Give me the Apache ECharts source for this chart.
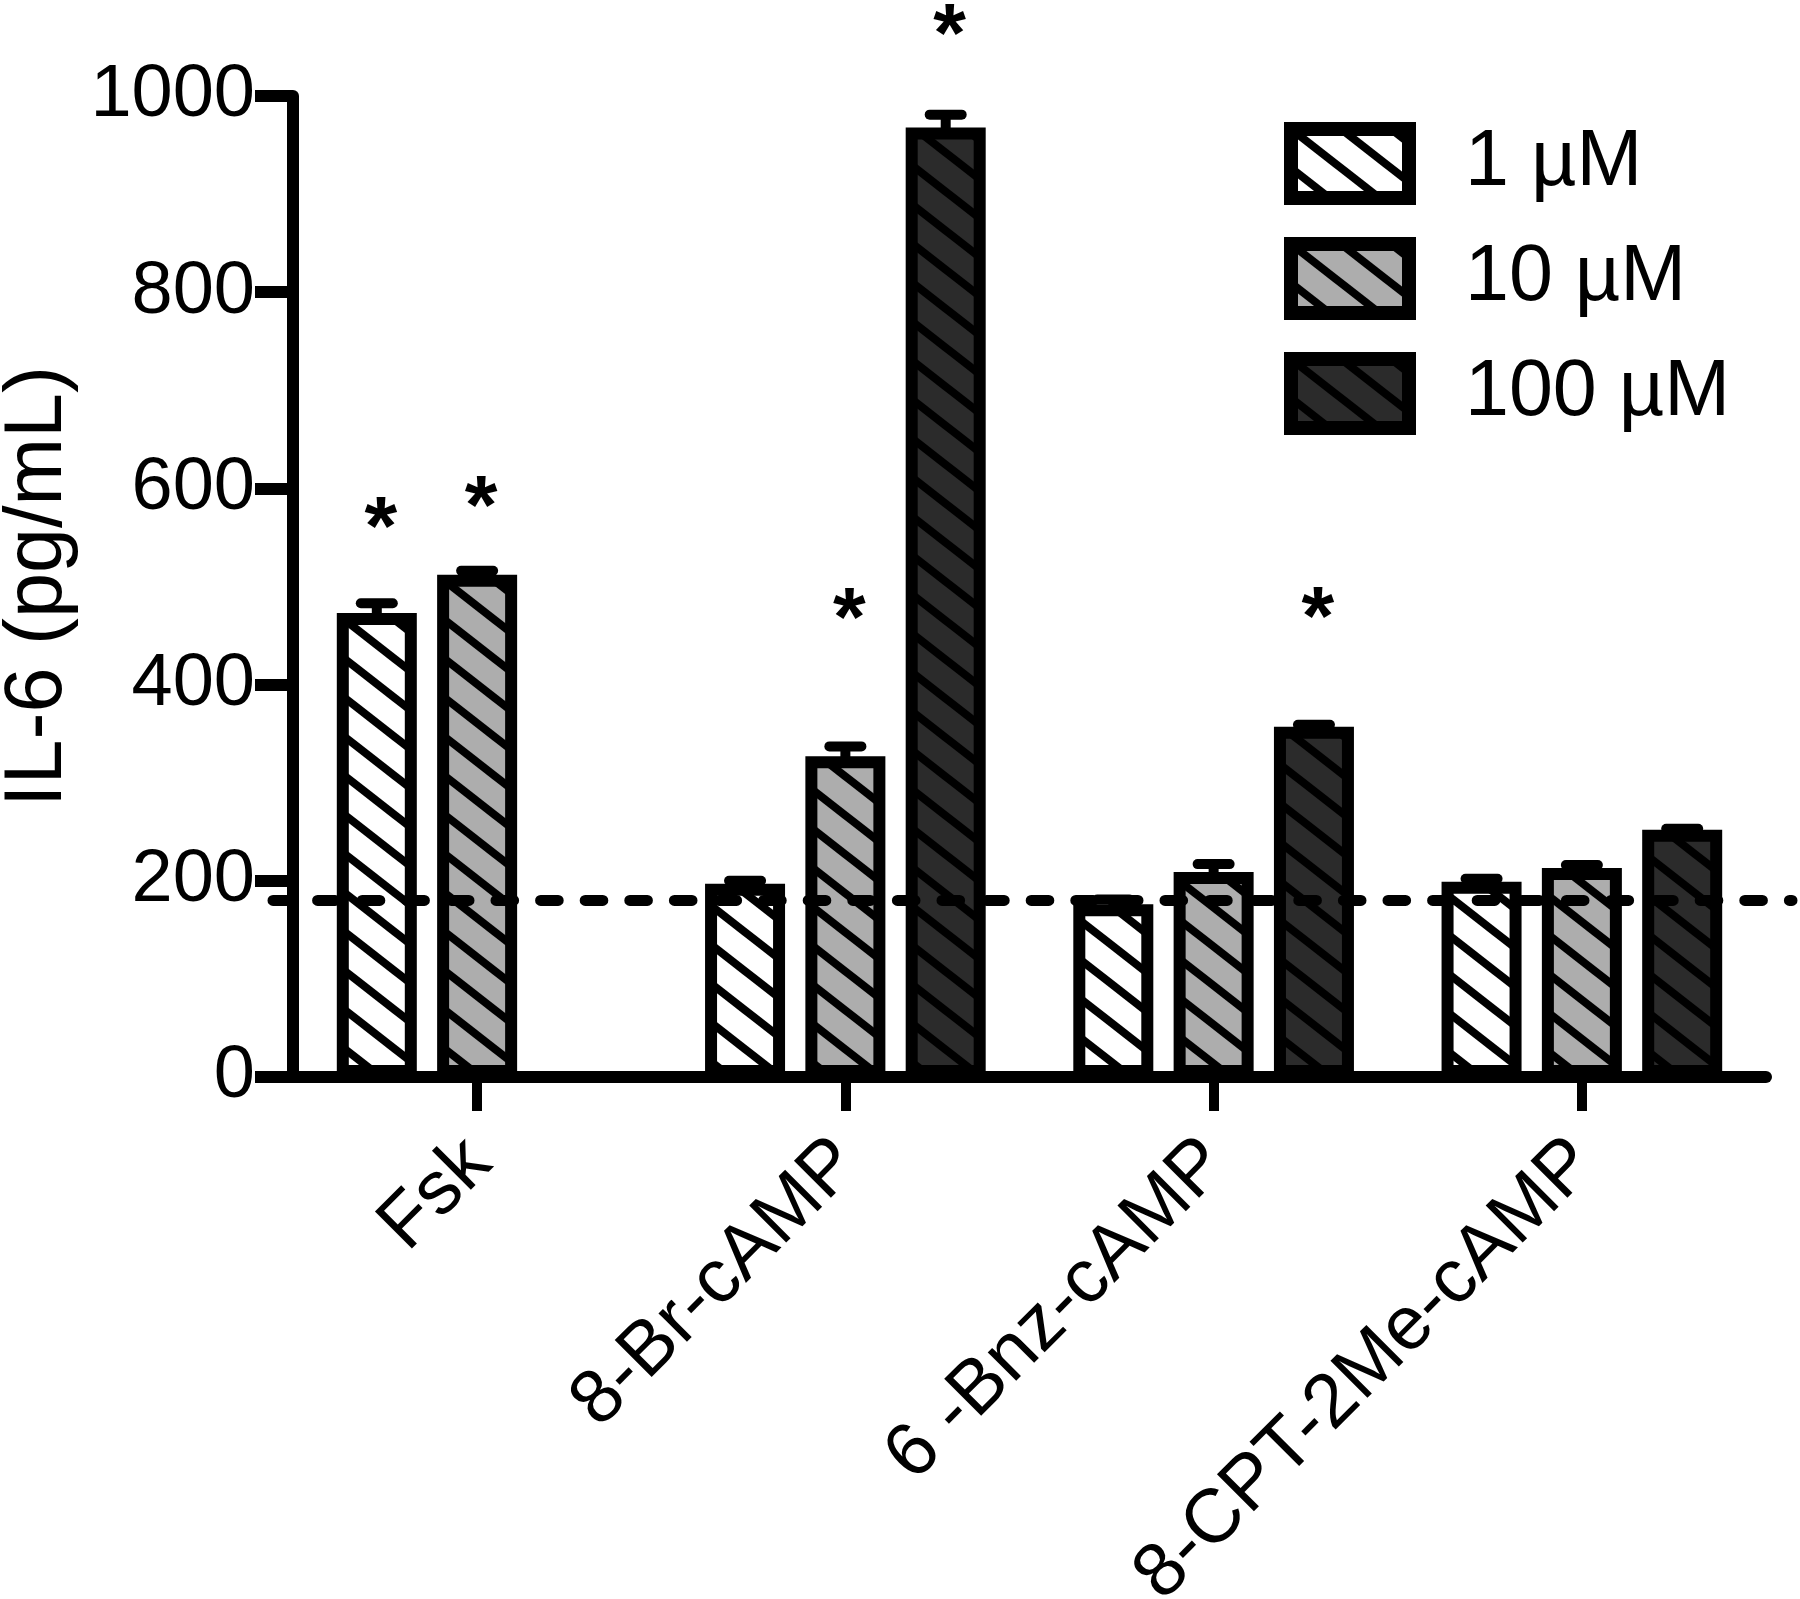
<!DOCTYPE html>
<html><head><meta charset="utf-8">
<script src="https://cdn.jsdelivr.net/npm/echarts@6/dist/echarts.min.js"></script>
<style>html,body{margin:0;padding:0;background:#fff}#c{width:1800px;height:1599px}</style>
</head><body><div id="c"></div>
<script>
// ---- data ----
const categories = ['Fsk', '8-Br-cAMP', '6 -Bnz-cAMP', '8-CPT-2Me-cAMP'];
const seriesNames = ['1 µM', '10 µM', '100 µM'];
const values1 = [473, 197, 176, 199];
const values10 = [512, 327, 209, 213];
const values100 = [null, 968, 357, 252];
const err1 = [10, 3, 5, 3];
const err10 = [4, 10, 8, 3];
const err100 = [null, 13, 2, 1];
const baselineValue = 180;
// [category index, series index, y value of the asterisk]
const asterisks = [[0, 0, 571], [0, 1, 592], [1, 1, 478], [1, 2, 1074], [2, 2, 479]];
const yMin = 0, yMax = 1000, yInterval = 200;

// ---- style ----
const FONT = '"Liberation Sans", Arial, Helvetica, sans-serif';
const fills = ['#ffffff', '#adadad', '#2b2b2b'];
const BAR_W = 80, BAR_GAP = 0.254;
const SLOT = BAR_W * (1 + BAR_GAP);

function hatch(bg) {
  const w = 50, h = 39, c = document.createElement('canvas');
  c.width = w; c.height = h;
  const g = c.getContext('2d');
  g.fillStyle = bg; g.fillRect(0, 0, w, h);
  g.strokeStyle = '#000'; g.lineWidth = 8;
  for (let k = -1; k <= 1; k++) {
    const dy = k * h;
    g.beginPath(); g.moveTo(-w, dy - h); g.lineTo(2 * w, dy + 2 * h); g.stroke();
  }
  return { image: c, repeat: 'repeat' };
}

const valueSets = [values1, values10, values100];
const errSets = [err1, err10, err100];

const barSeries = valueSets.map((v, i) => ({
  type: 'bar', name: seriesNames[i], data: v,
  barWidth: BAR_W, barGap: (BAR_GAP * 100) + '%',
  itemStyle: { color: hatch(fills[i]), borderColor: '#000', borderWidth: 12 },
  z: 2
}));

const errSeries = valueSets.map((v, i) => ({
  type: 'custom', name: seriesNames[i] + ' SEM', z: 3, clip: false,
  encode: { x: 0, y: 1 },
  data: v.map((val, j) => val == null ? null : [j, val, errSets[i][j]]).filter(d => d),
  renderItem(params, api) {
    const cat = api.value(0);
    const x = api.coord([cat, 0])[0] + (i - 1) * SLOT;
    const yBar = api.coord([cat, api.value(1)])[1];
    const yTop = api.coord([cat, api.value(1) + api.value(2)])[1];
    return { type: 'group', children: [
      { type: 'line', shape: { x1: x, y1: yBar + 6, x2: x, y2: yTop }, style: { stroke: '#000', lineWidth: 10 } },
      { type: 'line', shape: { x1: x - 16, y1: yTop, x2: x + 16, y2: yTop }, style: { stroke: '#000', lineWidth: 10, lineCap: 'round' } }
    ]};
  }
}));

const starSeries = {
  type: 'custom', name: 'sig', z: 5, clip: false,
  encode: { x: 0, y: 2 },
  data: asterisks,
  renderItem(params, api) {
    const si = api.value(1);
    const p = api.coord([api.value(0), api.value(2)]);
    return { type: 'text', x: p[0] + (si - 1) * SLOT + 4, y: p[1] + 15,
      style: { text: '*', fontSize: 84, fontWeight: 'bold', fill: '#000', align: 'center', verticalAlign: 'middle', fontFamily: FONT } };
  }
};

const dashSeries = {
  type: 'custom', name: 'baseline', z: 6, clip: false,
  encode: { x: 0, y: 1 },
  data: [[0, baselineValue]],
  renderItem(params, api) {
    const cs = params.coordSys;
    const y = api.coord([0, api.value(1)])[1];
    return { type: 'line', shape: { x1: cs.x - 20, y1: y, x2: cs.x + cs.width + 26, y2: y },
      style: { stroke: '#000', lineWidth: 11, lineDash: [17.6, 27], lineCap: 'round' } };
  }
};

const chart = echarts.init(document.getElementById('c'), null, { renderer: 'canvas' });
chart.setOption({
  animation: false,
  backgroundColor: '#fff',
  textStyle: { fontFamily: FONT },
  grid: { left: 293, right: 34, top: 96, bottom: 522, containLabel: false, outerBoundsMode: 'none' },
  legend: {
    data: seriesNames, orient: 'vertical', left: 1284, top: 122, padding: 0,
    itemWidth: 118, itemHeight: 69, itemGap: 32, icon: 'rect',
    itemStyle: { borderColor: '#000', borderWidth: 14 },
    textStyle: { fontSize: 79, color: '#000', padding: [0, 0, 0, 51], fontFamily: FONT },
    selectedMode: false
  },
  xAxis: {
    type: 'category', data: categories,
    axisLine: { lineStyle: { color: '#000', width: 12 } },
    axisTick: { show: true, alignWithLabel: true, length: 34, lineStyle: { color: '#000', width: 10 } },
    axisLabel: { rotate: 45, fontSize: 76, color: '#000', margin: 23, verticalAlign: 'top', padding: [0, 35, 0, 0], interval: 0, fontFamily: FONT }
  },
  yAxis: {
    type: 'value', min: yMin, max: yMax, interval: yInterval,
    axisLine: { show: true, lineStyle: { color: '#000', width: 12 } },
    axisTick: { show: true, length: 38, lineStyle: { color: '#000', width: 12 } },
    axisLabel: { fontSize: 74, color: '#000', margin: 38, fontFamily: FONT, formatter: v => String(v) },
    splitLine: { show: false },
    name: 'IL-6 (pg/mL)', nameLocation: 'middle', nameGap: 185,
    nameTextStyle: { fontSize: 81, color: '#000', fontFamily: FONT }
  },
  series: [...barSeries, ...errSeries, starSeries, dashSeries]
});
</script></body></html>
